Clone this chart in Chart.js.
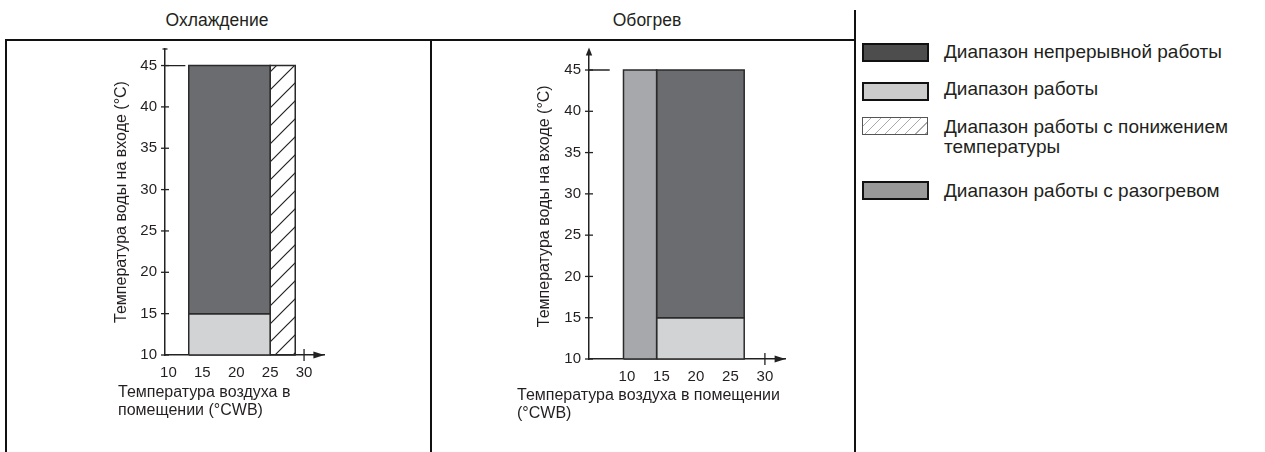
<!DOCTYPE html>
<html>
<head>
<meta charset="utf-8">
<script src="https://cdn.jsdelivr.net/npm/chart.js@4.4.0/dist/chart.umd.min.js"></script>
<style>
  html, body { margin: 0; padding: 0; background: #fff; }
  body { width: 1265px; height: 452px; position: relative; overflow: hidden;
         font-family: "Liberation Sans", Arial, sans-serif; color: #231f20; }
  canvas { position: absolute; top: 0; }
  .ln { position: absolute; background: #111; }
  .ptitle { position: absolute; top: 10px; font-size: 17.5px; line-height: 20px; transform: translateX(-50%); white-space: nowrap; }
  .xt { position: absolute; font-size: 16px; line-height: 18px; white-space: nowrap; }
  .lg-box { position: absolute; left: 862px; width: 63px; height: 15px; border: 2px solid #111; }
  .lg-txt { position: absolute; left: 944px; font-size: 19px; line-height: 20px; white-space: nowrap; }
</style>
</head>
<body>

<div class="ln" style="left:5px; top:39px; width:851px; height:2.4px"></div>
<div class="ln" style="left:5px; top:39px; width:2.4px; height:413px"></div>
<div class="ln" style="left:430px; top:39px; width:2px; height:413px"></div>
<div class="ln" style="left:853.5px; top:10px; width:2.4px; height:442px"></div>

<div class="ptitle" id="tCool" style="left:217px"></div>
<div class="ptitle" id="tHeat" style="left:647px"></div>

<canvas id="cool" width="430" height="452" style="left:0; width:430px; height:452px"></canvas>
<canvas id="heat" width="423" height="452" style="left:432px; width:423px; height:452px"></canvas>

<div class="xt" id="xCool" style="left:118px; top:383px"></div>
<div class="xt" id="xHeat" style="left:517px; top:386px"></div>

<div id="legend"></div>

<script>
// ── Data ──
const zoneNames = [
  'Диапазон непрерывной работы',
  'Диапазон работы',
  'Диапазон работы с понижением температуры',
  'Диапазон работы с разогревом'
];
const zoneFill   = ['#6b6c6f', '#d2d3d5', 'hatch', '#a7a8ab'];
const legendFill = ['#4d4d4e', '#cccccc', 'hatch', '#999999'];

// cooling zones (°CWB from..to, °C from..to)
const coolZone = [0, 1, 2];
const coolX0 = [13, 13, 25];
const coolX1 = [25, 25, 28.7];
const coolY0 = [15, 10, 10];
const coolY1 = [45, 15, 45];

// heating zones
const heatZone = [3, 0, 1];
const heatX0 = [9.5, 14.3, 14.3];
const heatX1 = [14.3, 27, 27];
const heatY0 = [10, 15, 10];
const heatY1 = [45, 45, 15];

// 45 °C guide from axis
const guideY = 45;
const coolGuideX = [9.5, 12.5];
const heatGuideX = [4.5, 7.5];

const xTicks = [10, 15, 20, 25, 30];
const yTicks = [10, 15, 20, 25, 30, 35, 40, 45];
const coolXRange = [9.5, 33];
const heatXRange = [4.5, 33];
const yRange = [10, 47];

const panelTitles = ['Охлаждение', 'Обогрев'];
const yTitle = 'Температура воды на входе (°C)';
const coolXTitle = ['Температура воздуха в', 'помещении (°CWB)'];
const heatXTitle = ['Температура воздуха в помещении', '(°CWB)'];

// ── Helpers ──
function hatchPattern() {
  const c = document.createElement('canvas');
  c.width = c.height = 18;
  const g = c.getContext('2d');
  g.strokeStyle = '#222';
  g.lineWidth = 1.2;
  g.beginPath();
  g.moveTo(0, 18); g.lineTo(18, 0);
  g.moveTo(-3, 3); g.lineTo(3, -3);
  g.moveTo(15, 21); g.lineTo(21, 15);
  g.stroke();
  return g.createPattern(c, 'repeat');
}
const HATCH = hatchPattern();

function zoneSets(zones, x0, x1, y0, y1) {
  return zones.map((z, i) => ({
    data: [
      { x: x0[i], y: y0[i] }, { x: x0[i], y: y1[i] },
      { x: x1[i], y: y1[i] }, { x: x1[i], y: y0[i] }, { x: x0[i], y: y0[i] }
    ],
    fill: 'shape',
    backgroundColor: zoneFill[z] === 'hatch' ? HATCH : zoneFill[z],
    borderColor: '#2a2a2a',
    borderWidth: 1.5,
    pointRadius: 0,
    tension: 0,
    clip: 6,
    order: i
  }));
}

function guideSet(gx) {
  return {
    data: gx.map(v => ({ x: v, y: guideY })),
    fill: false, borderColor: '#222', borderWidth: 1.3, pointRadius: 0, clip: 6
  };
}

// ── Axis arrows / crossing ticks ──
const axisMarks = {
  id: 'axisMarks',
  afterDraw(chart, args, o) {
    const { ctx, chartArea: a, scales: { x, y } } = chart;
    ctx.save();
    ctx.strokeStyle = '#222'; ctx.fillStyle = '#222'; ctx.lineWidth = 1.3;
    const seg = (x1, y1, x2, y2) => { ctx.beginPath(); ctx.moveTo(x1, y1); ctx.lineTo(x2, y2); ctx.stroke(); };
    yTicks.forEach(v => { const p = y.getPixelForValue(v); seg(a.left - 4, p, a.left + 4, p); });
    o.xMarks.forEach(v => { const p = x.getPixelForValue(v); seg(p, a.bottom - 6, p, a.bottom + 6); });
    // x arrow
    ctx.beginPath();
    ctx.moveTo(a.right, a.bottom); ctx.lineTo(a.right - 11, a.bottom - 3.5); ctx.lineTo(a.right - 11, a.bottom + 3.5);
    ctx.closePath(); ctx.fill();
    if (o.yArrow) {
      seg(a.left, a.top, a.left, a.top - 3);
      ctx.beginPath();
      ctx.moveTo(a.left, a.top - 6); ctx.lineTo(a.left - 3.2, a.top + 2); ctx.lineTo(a.left + 3.2, a.top + 2);
      ctx.closePath(); ctx.fill();
    } else {
      seg(a.left - 2.5, a.top, a.left + 2.5, a.top);
    }
    ctx.restore();
  }
};

function makeChart(id, sets, xRange, pad, yW, arrow) {
  return new Chart(document.getElementById(id), {
    type: 'line',
    data: { datasets: sets },
    plugins: [axisMarks],
    options: {
      responsive: false, animation: false, events: [],
      layout: { padding: pad },
      plugins: {
        legend: { display: false }, tooltip: { enabled: false },
        axisMarks: { xMarks: [30], yArrow: arrow }
      },
      scales: {
        x: {
          type: 'linear', min: xRange[0], max: xRange[1],
          afterBuildTicks: s => { s.ticks = xTicks.map(v => ({ value: v })); },
          afterFit: s => { s.height = 30; },
          grid: { drawOnChartArea: false, drawTicks: false, color: 'transparent' },
          border: { display: true, color: '#222', width: 1.5 },
          ticks: { padding: 9, color: '#231f20', font: { family: 'Liberation Sans', size: 15 } }
        },
        y: {
          type: 'linear', min: yRange[0], max: yRange[1],
          afterBuildTicks: s => { s.ticks = yTicks.map(v => ({ value: v })); },
          afterFit: s => { s.width = yW; },
          grid: { drawOnChartArea: false, drawTicks: false, color: 'transparent' },
          border: { display: true, color: '#222', width: 1.5 },
          ticks: { padding: 8, color: '#231f20', font: { family: 'Liberation Sans', size: 15 } },
          title: { display: true, text: yTitle, color: '#231f20', font: { family: 'Liberation Sans', size: 16 } }
        }
      }
    }
  });
}

makeChart('cool',
  zoneSets(coolZone, coolX0, coolX1, coolY0, coolY1).concat([guideSet(coolGuideX)]),
  coolXRange, { left: 108, top: 49, right: 105.6, bottom: 67 }, 57, false);

makeChart('heat',
  zoneSets(heatZone, heatX0, heatX1, heatY0, heatY1).concat([guideSet(heatGuideX)]),
  heatXRange, { left: 99, top: 53.5, right: 69.4, bottom: 63 }, 58, true);

// ── Texts & legend ──
document.getElementById('tCool').textContent = panelTitles[0];
document.getElementById('tHeat').textContent = panelTitles[1];
document.getElementById('xCool').innerHTML = coolXTitle.join('<br>');
document.getElementById('xHeat').innerHTML = heatXTitle.join('<br>');

const lgBoxTop = [43, 82, 117, 181];
const lgTxtTop = [42, 79, 117, 181];
const lgTxt = ['Диапазон непрерывной работы', 'Диапазон работы', 'Диапазон работы с понижением<br>температуры', 'Диапазон работы с разогревом'];
const lg = document.getElementById('legend');
zoneNames.forEach((n, i) => {
  const b = document.createElement('div');
  b.className = 'lg-box';
  b.style.top = lgBoxTop[i] + 'px';
  if (legendFill[i] === 'hatch') {
    b.style.border = '1.5px solid #555';
    b.style.width = '64px'; b.style.height = '16px';
    b.style.background = 'repeating-linear-gradient(135deg, #fff 0 5px, #aaa 5px 6.2px, #fff 6.2px 7.1px)';
  } else {
    b.style.background = legendFill[i];
  }
  lg.appendChild(b);
  const t = document.createElement('div');
  t.className = 'lg-txt';
  t.style.top = lgTxtTop[i] + 'px';
  t.innerHTML = lgTxt[i];
  lg.appendChild(t);
});
</script>
</body>
</html>
